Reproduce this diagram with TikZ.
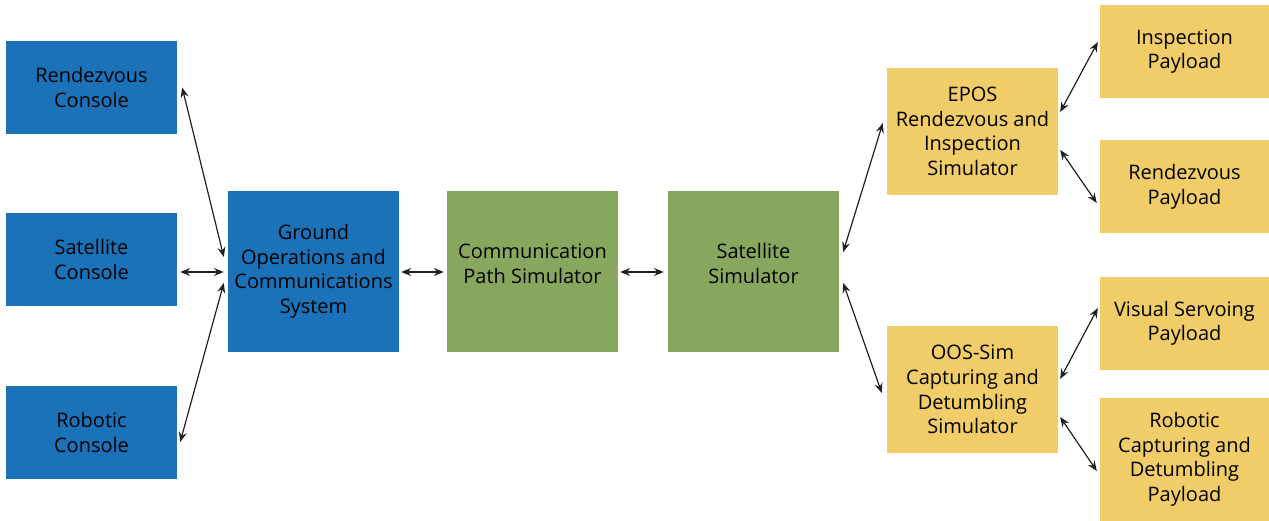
\documentclass[tikz,border=0pt]{standalone}
\usepackage{fontspec}
\setmainfont{Open Sans}
\usetikzlibrary{calc,arrows.meta}
\definecolor{cblue}{HTML}{1B72B8}
\definecolor{cgreen}{HTML}{87A75E}
\definecolor{cyellow}{HTML}{F0CD68}
\definecolor{cline}{HTML}{231F20}
\tikzset{
  box/.style={rectangle, inner sep=0pt, align=center, text=black,
    font=\fontsize{20}{24.6}\selectfont},
  bluebox/.style={box, fill=cblue, minimum width=171pt, minimum height=93pt},
  gobox/.style={box, fill=cblue, minimum width=171pt, minimum height=161pt},
  greenbox/.style={box, fill=cgreen, minimum width=171pt, minimum height=161pt, text depth=16pt},
  ybox/.style={box, fill=cyellow, minimum width=171pt, minimum height=127pt},
  pbox/.style={box, fill=cyellow, minimum width=169pt, minimum height=93pt},
  tip/.tip={Stealth[length=10pt,width=8pt,inset=3.5pt]},
  link/.style={draw=cline, line width=1.2pt, tip-tip}
}
\begin{document}
\begin{tikzpicture}[x=1pt,y=-1pt]
\useasboundingbox (0,0) rectangle (1269,521);
\node[bluebox] (rc) at (91.5,87.5) {Rendezvous\\Console};
\node[bluebox] (sc) at (91.5,259.5) {Satellite\\Console};
\node[bluebox] (robc) at (91.5,432.5) {Robotic\\Console};
\node[gobox] (go) at (313.5,271.5) {Ground\\Operations and\\Communications\\System};
\node[greenbox] (comm) at (532.5,271.5) {Communication\\Path Simulator};
\node[greenbox] (sat) at (753.5,271.5) {Satellite\\Simulator};
\node[ybox] (epos) at (972.5,131.5) {EPOS\\Rendezvous and\\Inspection\\Simulator};
\node[ybox] (oos) at (972.5,389.5) {OOS-Sim\\Capturing and\\Detumbling\\Simulator};
\node[pbox] (insp) at (1184.5,51.5) {Inspection\\Payload};
\node[pbox] (rp) at (1184.5,187) {Rendezvous\\Payload};
\node[pbox] (vs) at (1184.5,323.5) {Visual Servoing\\Payload};
\node[box, fill=cyellow, minimum width=169pt, minimum height=123pt] (rcp) at (1184.5,459.5) {Robotic\\Capturing and\\Detumbling\\Payload};

\draw[link] ($(rc.east)+(5,0)$) -- ($(go.west)+(-4,-14.5)$);
\draw[link] ($(sc.east |- go.west)+(3,0.5)$) -- ($(go.west)+(-4,0.5)$);
\draw[link] ($(robc.east)+(3,9.5)$) -- ($(go.west)+(-4,11.5)$);
\draw[link] ($(go.east)+(2,0.5)$) -- ($(comm.west)+(-3,0.5)$);
\draw[link] ($(comm.east)+(2,0.5)$) -- ($(sat.west)+(-4,0.5)$);
\draw[link] ($(sat.east)+(4,-19.5)$) -- ($(epos.west)+(-4,-8.5)$);
\draw[link] ($(sat.east)+(4,11.5)$) -- ($(oos.west)+(-5,3.5)$);
\draw[link] ($(epos.east)+(2,-19.5)$) -- ($(insp.west)+(-2,-9.5)$);
\draw[link] ($(epos.east)+(2,18.5)$) -- ($(rp.west)+(-3,16)$);
\draw[link] ($(oos.east)+(2,-10.5)$) -- ($(vs.west)+(-2,-15.5)$);
\draw[link] ($(oos.east)+(2,27.5)$) -- ($(rcp.west)+(-3,11.5)$);
\end{tikzpicture}
\end{document}
